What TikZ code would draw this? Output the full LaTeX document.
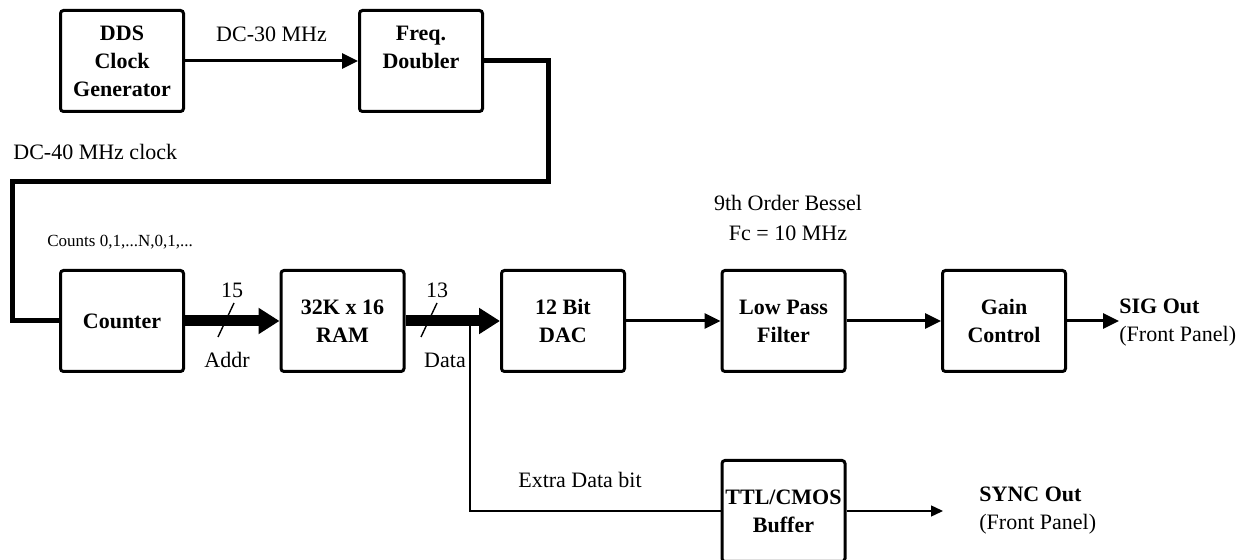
\documentclass[tikz,border=0pt]{standalone}
\usepackage{fontspec}
\setmainfont{Liberation Serif}
\usetikzlibrary{arrows.meta,positioning}

\begin{document}
\begin{tikzpicture}[x=0.5pt, y=-0.5pt, font=\fontsize{11}{14}\selectfont, node distance=47.25pt,
    blk/.style={draw, line width=1.5pt, rounded corners=1.5pt, minimum width=61.5pt, minimum height=50.5pt,
      align=center, inner sep=1pt, font=\fontsize{11}{14}\selectfont\bfseries},
    sig/.style={line width=1.5pt, -{Triangle[length=8pt,width=7.5pt]}},
    bus/.style={line width=5.5pt, -{Triangle[length=10.5pt,width=12.5pt]}},
    clk/.style={line width=2.5pt},
    wire/.style={line width=0.7pt},
    lbl/.style={inner sep=0pt}]
  \useasboundingbox (0,0) rectangle (1242,560);

  % clock generation
  \node[blk] (dds) at (122,61) {DDS\\Clock\\Generator};
  \node[blk,right=86.5pt of dds] (freq) {Freq.\\Doubler\\\phantom{X}};
  \draw[sig] (dds.east) -- node[lbl,above=9pt] (mhz30) {DC-30 MHz} (freq.west);

  % signal chain
  \node[blk,below=78pt of dds] (counter) {Counter};
  \node[blk,right=of counter] (ram) {32K x 16\\RAM};
  \node[blk,right=of ram] (dac) {12 Bit\\DAC};
  \node[blk,right=of dac] (lpf) {Low Pass\\Filter};
  \node[blk,right=of lpf] (gain) {Gain\\Control};
  \node[blk,below=43pt of lpf] (buffer) {TTL/CMOS\\Buffer};

  \draw[clk] (freq.east) -- ++(64,0) |- (12,182) |- (counter.west);
  \node[lbl,anchor=west] (mhz40) at (13,152) {DC-40 MHz clock};
  \node[lbl,anchor=west,font=\fontsize{8.5}{10}\selectfont] (counts) at (47,242) {Counts 0,1,...N,0,1,...};

  \draw[bus] (counter.east) -- (ram.west);
  \draw[bus] (ram.east) -- (dac.west);
  \draw[sig] (dac.east) -- (lpf.west);
  \draw[sig] (lpf.east) -- (gain.west);

  % bus widths
  \coordinate (addrcut) at (226,320);
  \draw[wire] (addrcut) ++(-8,17) -- ++(16,-34);
  \node[lbl] (addrw) at (232,290) {15};
  \node[lbl] (addrlbl) at (227,360) {Addr};
  \coordinate (datacut) at (429,320);
  \draw[wire] (datacut) ++(-8,17) -- ++(16,-34);
  \node[lbl] (dataw) at (437,290) {13};
  \node[lbl] (datalbl) at (445,360) {Data};

  \node[lbl,align=center,font=\fontsize{11}{15}\selectfont] (bessel) at (788,218) {9th Order Bessel\\Fc = 10 MHz};

  % outputs
  \node[lbl,anchor=west,align=left] (sigout) at (1119,323) {\textbf{SIG Out}\\(Front Panel)};
  \draw[sig] (gain.east) -- (gain.east -| sigout.west);

  \coordinate (tap) at (470,321);
  \draw[wire] (tap) |- (buffer.west);
  \node[lbl] (extra) at (580,480) {Extra Data bit};
  \coordinate (syncend) at (943,511);
  \draw[wire,-{Triangle[length=6pt,width=5.5pt]}] (buffer.east) -- (syncend);
  \node[lbl,anchor=west,align=left] (syncout) at (979,511) {\textbf{SYNC Out}\\(Front Panel)};
\end{tikzpicture}
\end{document}
